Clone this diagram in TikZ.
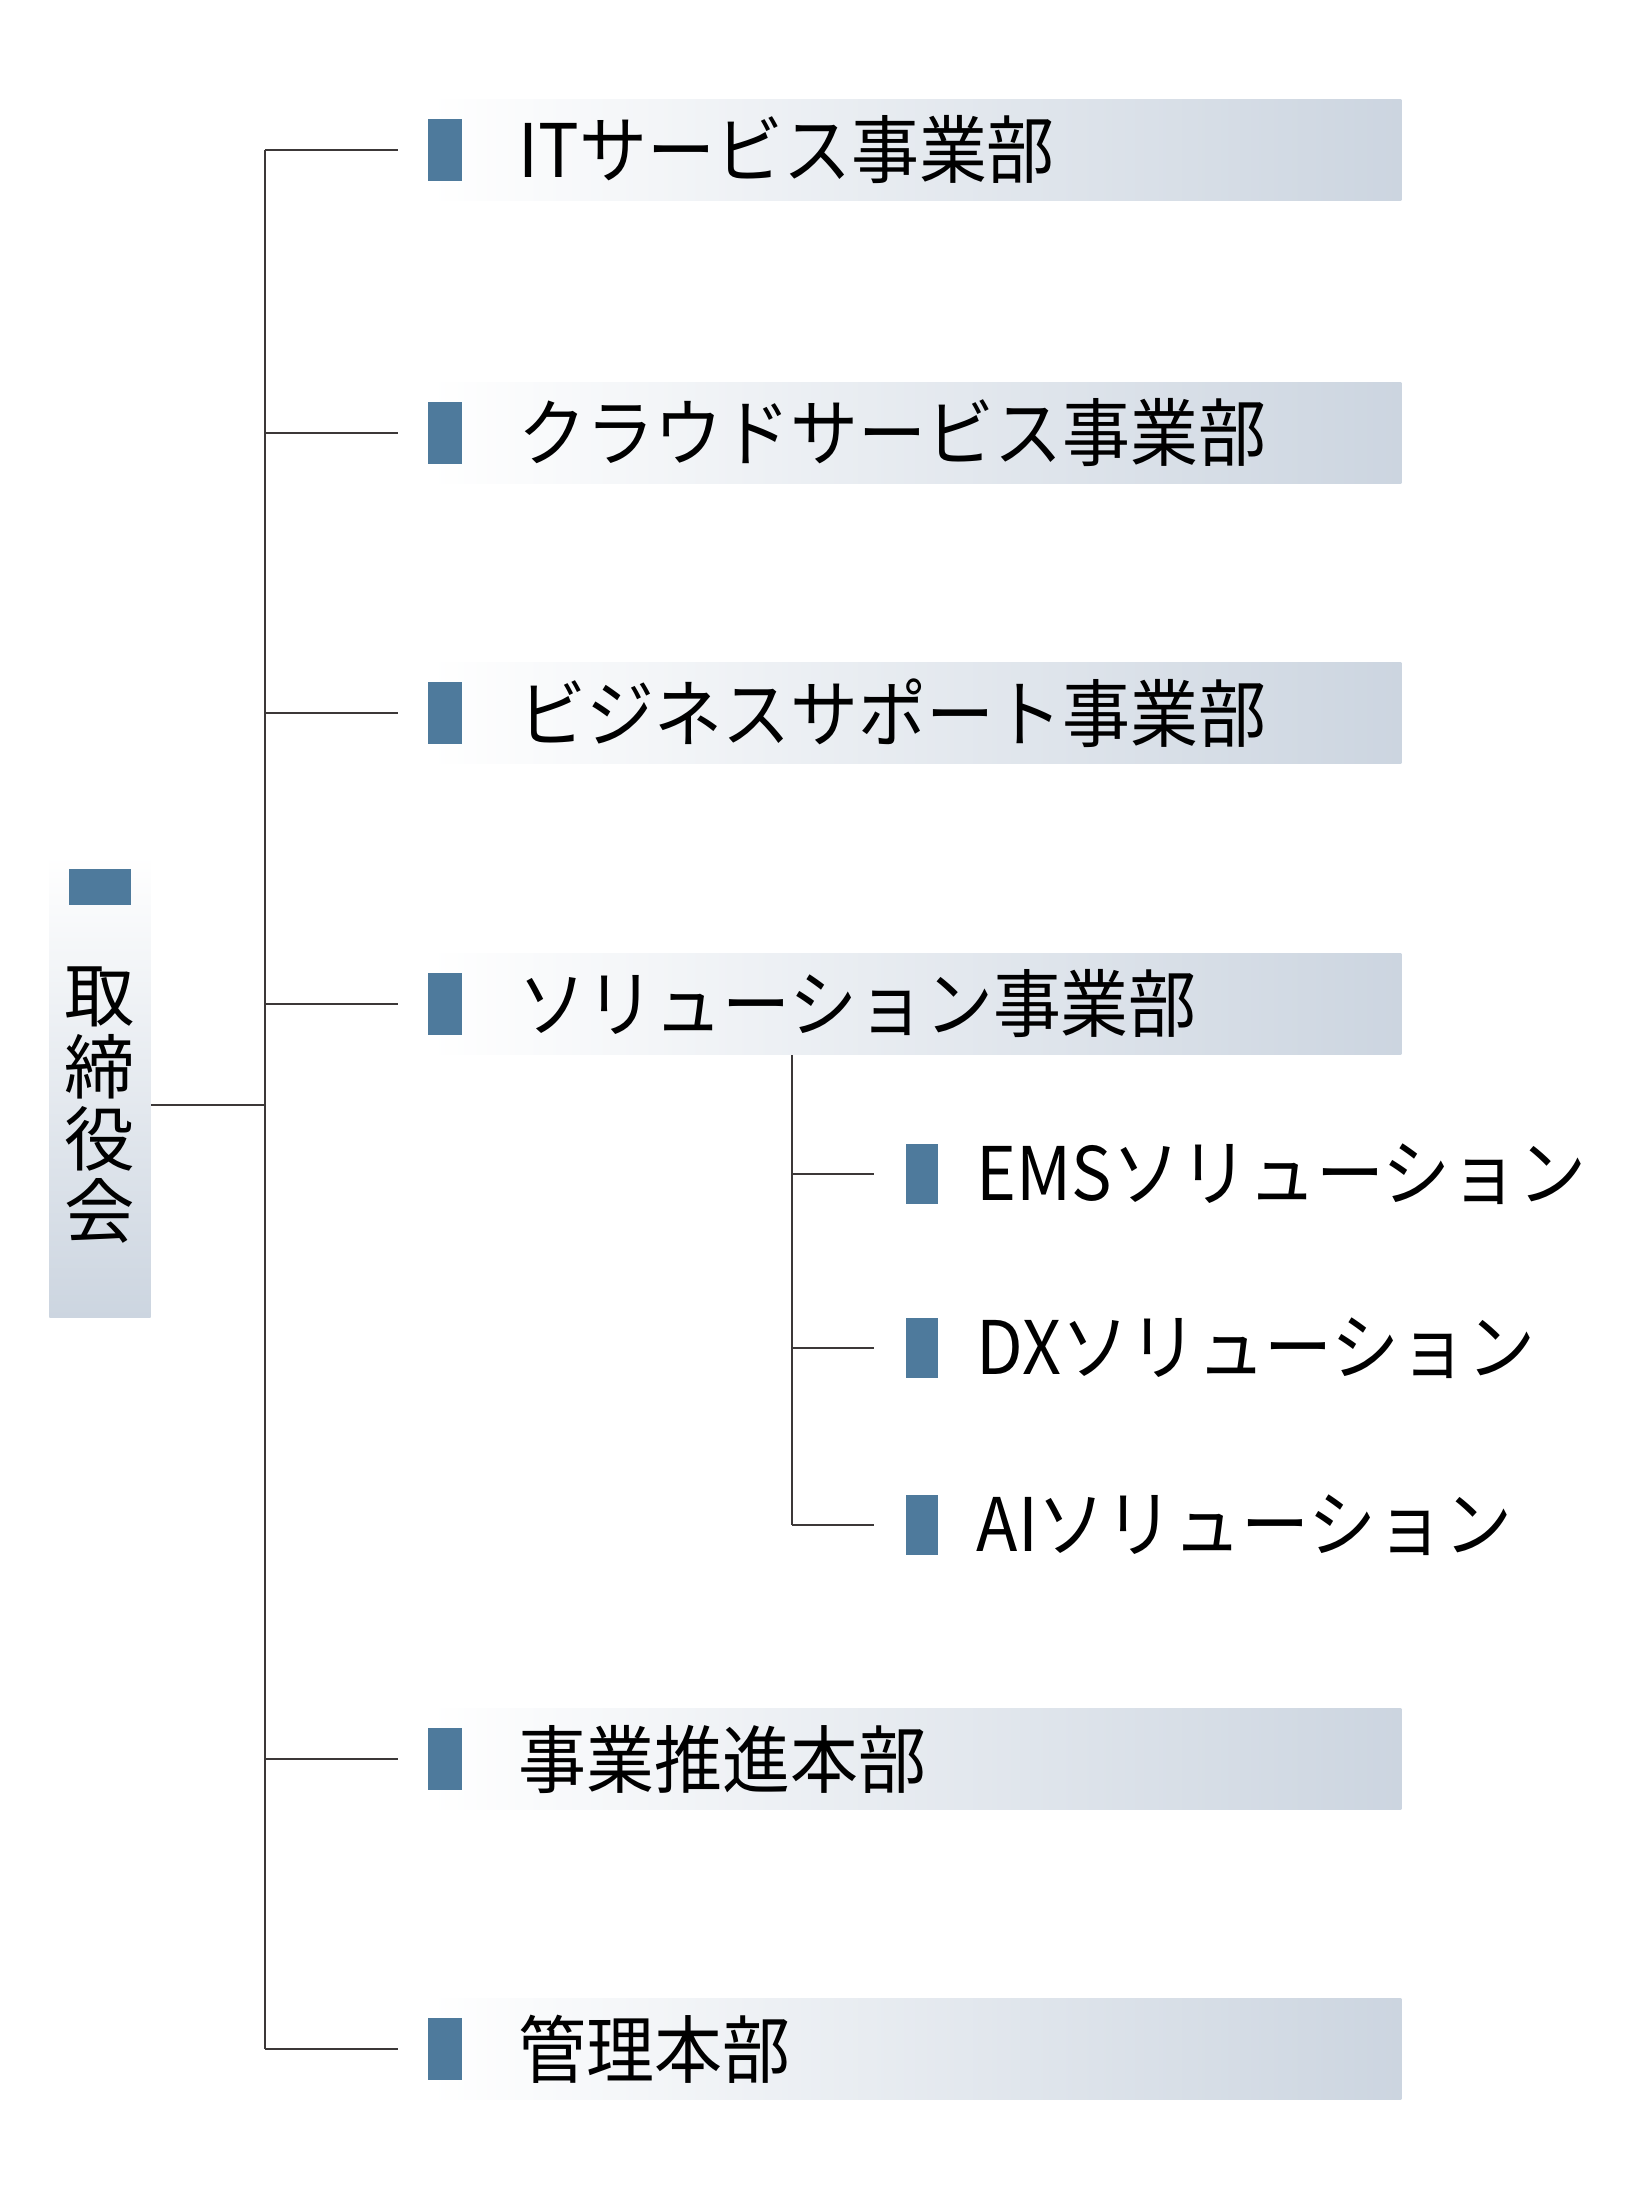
\documentclass[tikz,border=0pt]{standalone}
\usepackage{fontspec}
\setmainfont{Noto Sans CJK JP}[FakeStretch=0.92]
\newfontfamily\boardfont{Noto Sans CJK JP}
\definecolor{barblue}{HTML}{4E7A9C}
\definecolor{bandgray}{HTML}{CCD5E0}
\definecolor{linegray}{HTML}{3C3838}
\tikzset{
	band/.style={anchor=west, inner sep=0pt, minimum width=9.72cm, minimum height=1.01cm,
		left color=white, right color=bandgray},
	tab/.style={fill=barblue, inner sep=0pt, minimum width=.34cm, minimum height=.62cm},
	lbl/.style={anchor=west, inner sep=0pt, font=\fontsize{21pt}{25pt}\selectfont},
	link/.style={draw=linegray, line width=.6pt}
}
\begin{document}
\begin{tikzpicture}[x=.01cm, y=-.01cm]
	\useasboundingbox (0,0) rectangle (1639,2195);
	% board
	\node[inner sep=0pt, minimum width=1.01cm, minimum height=4.62cm,
		top color=white, bottom color=bandgray] (board) at (100,1086) {};
	\node[fill=barblue, inner sep=0pt, minimum width=.62cm, minimum height=.35cm] (boardtab) at (100,887) {};
	\node[align=center, inner sep=0pt, font=\boardfont\fontsize{20pt}{.72cm}\selectfont] (boardname) at (100,1105) {取\\締\\役\\会};
	% departments
	\foreach \i/\y/\t in {1/150/ITサービス事業部, 2/433/クラウドサービス事業部, 3/713/ビジネスサポート事業部,
		4/1004/ソリューション事業部, 5/1759/事業推進本部, 6/2049/管理本部} {
		\node[band] (dept\i) at (428,\y) {};
		\node[tab] (tab\i) at (445,\y) {};
		\node[lbl] (name\i) at (518,\y) {\t};
		\coordinate (j\i) at (265,\y);
		\draw[link, shorten >=.29cm] (j\i) -- (tab\i);
	}
	\draw[link] (j1) -- (j6);
	\draw[link] (board.east |- boardname) -- (boardname -| j1);
	% solutions
	\foreach \i/\y/\t in {1/1174/EMSソリューション, 2/1348/DXソリューション, 3/1525/AIソリューション} {
		\node[tab, minimum width=.32cm, minimum height=.6cm] (subtab\i) at (922,\y) {};
		\node[lbl] (subname\i) at (976,\y) {\t};
		\coordinate (s\i) at (792,\y);
		\draw[link, shorten >=.31cm] (s\i) -- (subtab\i);
	}
	\draw[link] (s1 |- dept4.south) -- (s3);
\end{tikzpicture}
\end{document}
